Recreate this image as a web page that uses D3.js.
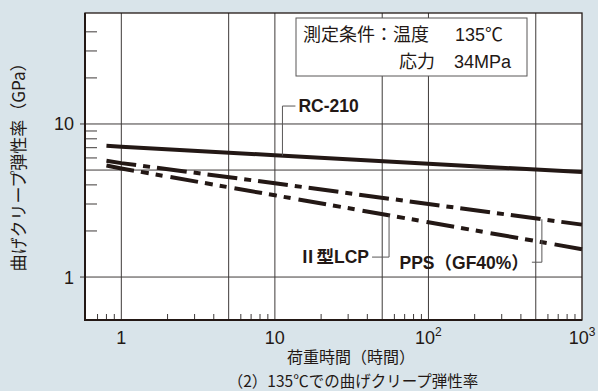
<!DOCTYPE html>
<html lang="ja">
<head>
<meta charset="UTF-8">
<title>曲げクリープ弾性率</title>
<script src="https://d3js.org/d3.v7.min.js"></script>
<style>
  html, body { margin: 0; padding: 0; background: #d9e4ea; }
  svg { display: block; }
  text { fill: #231815; font-family: "Liberation Sans", "Noto Sans CJK JP", sans-serif; }
  .jp { font-family: "Noto Sans CJK JP", sans-serif; }
  .grid { stroke: #3e3a39; stroke-width: 1; }
  .tick { stroke: #3e3a39; stroke-width: 1; }
  .series { fill: none; stroke: #231815; stroke-width: 4; }
  .leader { fill: none; stroke: #595757; stroke-width: 1; }
</style>
</head>
<body>
<svg width="598" height="391"></svg>
<script>
// データ
const hours = [0.8, 1, 10, 100, 1000];
const rc210 = [7.2, 7.1, 6.25, 5.5, 4.85];
const pps = [5.75, 5.55, 4.1, 3.0, 2.2];
const lcp = [5.35, 5.12, 3.42, 2.28, 1.52];

const xMajor = [1, 10, 100, 1000];
const xMajorExp = [null, null, 2, 3];
const xGrid = [1, 5, 10, 50, 100, 500];
const xMinor = [0.7, 0.8, 0.9, 2, 3, 4, 6, 7, 8, 9, 20, 30, 40, 60, 70, 80, 90,
                200, 300, 400, 600, 700, 800, 900];
const yMajor = [1, 10];
const yGrid = [1, 5, 10];
const yMinor = [2, 3, 4, 6, 7, 8, 9, 20, 30, 40];

const svg = d3.select("svg");
const plot = { left: 85, right: 582, top: 13, bottom: 320 };

const x = d3.scaleLog().domain([0.58, 1000]).range([plot.left, plot.right]);
const y = d3.scaleLog().domain([0.524, 53.1]).range([plot.bottom, plot.top]);

// 背景
svg.append("rect")
    .attr("x", plot.left).attr("y", plot.top)
    .attr("width", plot.right - plot.left).attr("height", plot.bottom - plot.top)
    .attr("fill", "#fff");

// グリッド
svg.append("g").selectAll("line").data(xGrid).join("line")
    .attr("class", "grid")
    .attr("x1", d => x(d)).attr("x2", d => x(d))
    .attr("y1", plot.top).attr("y2", plot.bottom);
svg.append("g").selectAll("line").data(yGrid).join("line")
    .attr("class", "grid")
    .attr("x1", plot.left).attr("x2", plot.right)
    .attr("y1", d => y(d)).attr("y2", d => y(d));

// 目盛り
svg.append("g").selectAll("line").data(xMinor).join("line")
    .attr("class", "tick")
    .attr("x1", d => x(d)).attr("x2", d => x(d))
    .attr("y1", plot.bottom).attr("y2", plot.bottom - 6);
svg.append("g").selectAll("line").data(yMinor).join("line")
    .attr("class", "tick")
    .attr("x1", plot.left).attr("x2", plot.left + 12)
    .attr("y1", d => y(d)).attr("y2", d => y(d));
svg.append("g").selectAll("line").data(yMajor).join("line")
    .attr("class", "tick")
    .attr("x1", plot.left - 5).attr("x2", plot.left)
    .attr("y1", d => y(d)).attr("y2", d => y(d));

// 枠
svg.append("rect")
    .attr("x", plot.left).attr("y", plot.top)
    .attr("width", plot.right - plot.left).attr("height", plot.bottom - plot.top)
    .attr("fill", "none").attr("stroke", "#231815").attr("stroke-width", 1.3);
svg.append("path")
    .attr("d", `M${plot.left},${plot.top}V${plot.bottom}H${plot.right}`)
    .attr("fill", "none").attr("stroke", "#231815").attr("stroke-width", 2);

// 目盛りラベル
svg.append("g").selectAll("text").data(yMajor).join("text")
    .attr("x", plot.left - 11).attr("y", d => y(d))
    .attr("dy", "0.36em").attr("text-anchor", "end")
    .attr("font-size", 18).text(d => d);

const xl = svg.append("g").selectAll("text").data(xMajor).join("text")
    .attr("x", d => x(d)).attr("y", 344)
    .attr("text-anchor", "middle").attr("font-size", 18)
    .text(d => d >= 100 ? "10" : d);
xl.filter((d, i) => xMajorExp[i] !== null).append("tspan")
    .attr("dy", -8).attr("font-size", 12)
    .text(d => xMajorExp[xMajor.indexOf(d)]);

// 系列
const line = d3.line().x((d, i) => x(hours[i])).y(d => y(d));
const series = [
    { name: "RC-210", values: rc210, dash: null },
    { name: "PPS（GF40%）", values: pps, dash: "30,7,7,7" },
    { name: "Ⅱ型LCP", values: lcp, dash: "28,7,8,7,7,8" }
];
svg.append("g").selectAll("path").data(series).join("path")
    .attr("class", "series")
    .attr("stroke-dasharray", d => d.dash)
    .attr("d", d => line(d.values));

// 対数補間
function valueAt(vals, h) {
    const lh = hours.map(Math.log10);
    const t = Math.log10(h);
    let i = 0;
    while (i < lh.length - 2 && t > lh[i + 1]) i++;
    const f = (t - lh[i]) / (lh[i + 1] - lh[i]);
    return Math.pow(10, Math.log10(vals[i]) + f * (Math.log10(vals[i + 1]) - Math.log10(vals[i])));
}

// 引き出し線とラベル
const labels = [
    { s: series[0], at: 11.2, ly: 13.1, dir: 1, arm: 13 },
    { s: series[2], at: 55.4, ly: 1.35, dir: -1, arm: 17 },
    { s: series[1], at: 548, ly: 1.25, dir: -1, arm: 10 }
];
labels.forEach(l => {
    const px = x(l.at), py = y(valueAt(l.s.values, l.at)), ty = y(l.ly);
    svg.append("path").attr("class", "leader")
        .attr("d", `M${px},${py}V${ty}H${px + l.dir * l.arm}`);
    const t = svg.append("text")
        .attr("x", px + l.dir * (l.arm + 3)).attr("y", ty).attr("dy", "0.36em")
        .attr("text-anchor", l.dir > 0 ? "start" : "end")
        .attr("font-size", 17.5).attr("font-weight", "bold");
    // 「Ⅱ」は和文フォントで
    if (l.s.name.startsWith("Ⅱ")) {
        t.append("tspan").attr("class", "jp").text("Ⅱ");
        t.append("tspan").text(l.s.name.slice(1));
    } else {
        t.text(l.s.name);
    }
});

// 測定条件
svg.append("rect")
    .attr("x", 296).attr("y", 18).attr("width", 231).attr("height", 58)
    .attr("fill", "#fff").attr("stroke", "#595757").attr("stroke-width", 1);
svg.append("text").attr("class", "jp").attr("x", 303).attr("y", 41)
    .attr("font-size", 18).text("測定条件：温度");
svg.append("text").attr("x", 455).attr("y", 41)
    .attr("font-size", 18).text("135℃");
svg.append("text").attr("class", "jp").attr("x", 399).attr("y", 68)
    .attr("font-size", 18).text("応力");
svg.append("text").attr("x", 454).attr("y", 68)
    .attr("font-size", 18).text("34MPa");

// 軸タイトル
svg.append("text").attr("class", "jp")
    .attr("transform", "translate(25,163) rotate(-90)")
    .attr("text-anchor", "middle").attr("font-size", 17)
    .text("曲げクリープ弾性率（GPa）");
svg.append("text").attr("class", "jp")
    .attr("x", 351).attr("y", 363).attr("text-anchor", "middle")
    .attr("font-size", 16).text("荷重時間（時間）");
svg.append("text").attr("class", "jp")
    .attr("x", 353).attr("y", 387).attr("text-anchor", "middle")
    .attr("font-size", 15.5).text("（2）135℃での曲げクリープ弾性率");
</script>
</body>
</html>
